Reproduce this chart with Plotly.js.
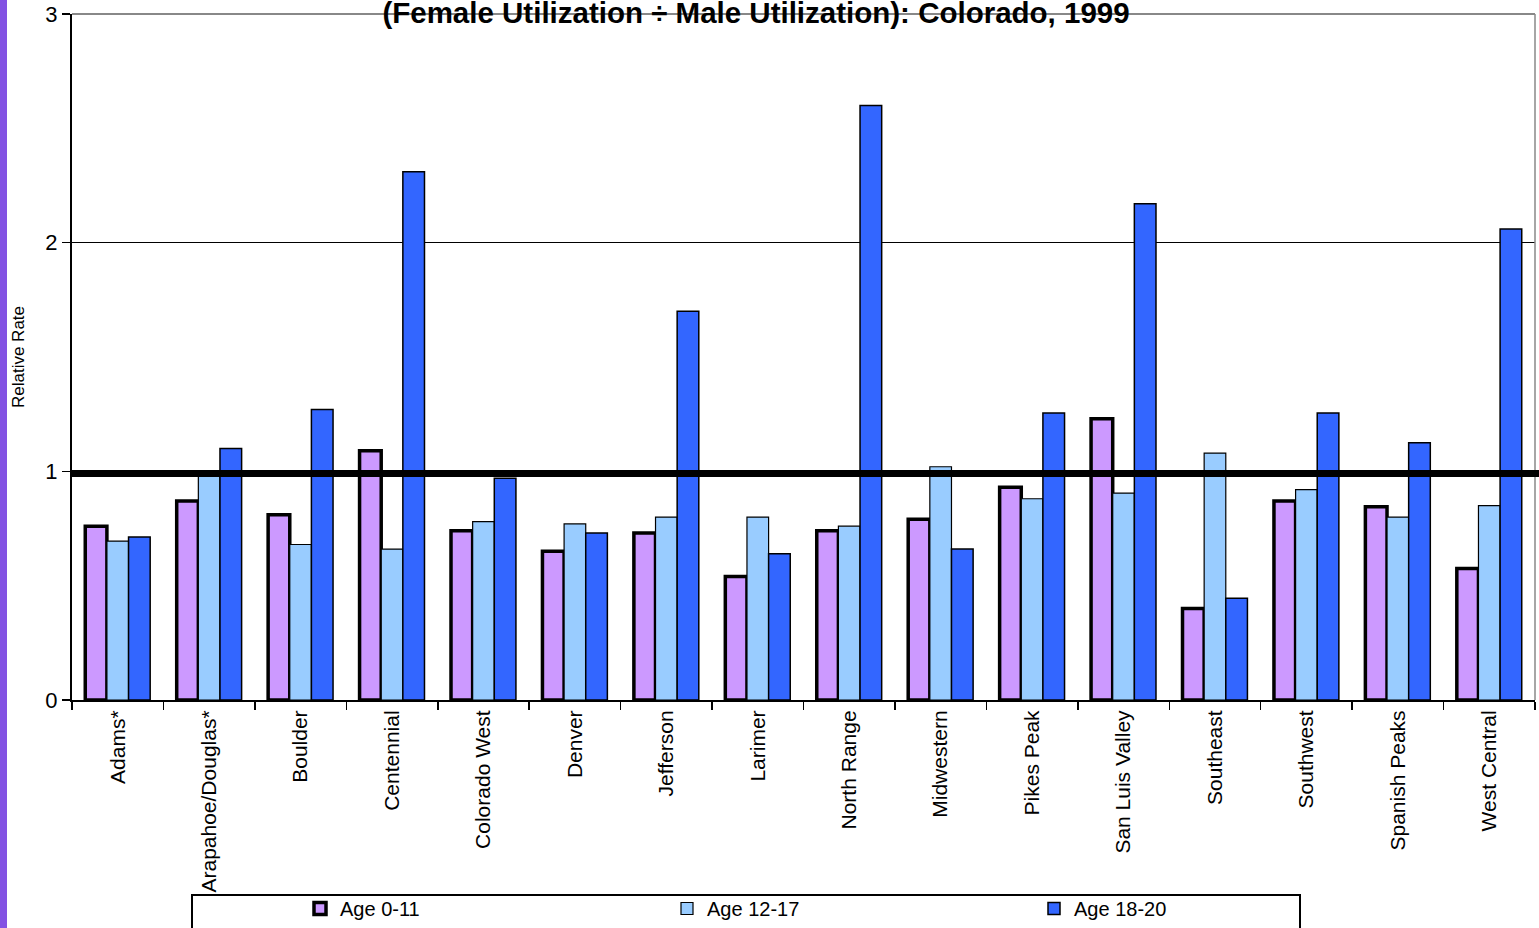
<!DOCTYPE html>
<html>
<head>
<meta charset="utf-8">
<script src="https://cdn.plot.ly/plotly-3.0.1.min.js"></script>
<style>html,body{margin:0;padding:0;background:#fff;}#chart{width:1539px;height:928px;}</style>
</head>
<body>
<div id="chart"></div>
<script>
var regions = ["Adams*", "Arapahoe/Douglas*", "Boulder", "Centennial", "Colorado West", "Denver", "Jefferson", "Larimer", "North Range", "Midwestern", "Pikes Peak", "San Luis Valley", "Southeast", "Southwest", "Spanish Peaks", "West Central"];
var age0_11  = [0.76, 0.87, 0.81, 1.09, 0.74, 0.65, 0.73, 0.54, 0.74, 0.79, 0.93, 1.23, 0.40, 0.87, 0.845, 0.575];
var age12_17 = [0.695, 0.99, 0.68, 0.66, 0.78, 0.77, 0.80, 0.80, 0.76, 1.02, 0.88, 0.905, 1.08, 0.92, 0.80, 0.85];
var age18_20 = [0.713, 1.10, 1.27, 2.31, 0.97, 0.73, 1.70, 0.64, 2.60, 0.66, 1.255, 2.17, 0.445, 1.255, 1.125, 2.06];
var seriesNames = ["Age 0-11", "Age 12-17", "Age 18-20"];
var referenceValue = 0.99;
var yTicks = [0, 1, 2, 3];
var chartTitle = "(Female Utilization \u00f7 Male Utilization): Colorado, 1999";
var yTitle = "Relative Rate";

var FONT = "Liberation Sans, Arial, sans-serif";
var traces = [
  {type: "bar", name: seriesNames[0], x: regions, y: age0_11,
   marker: {color: "#cc99ff", line: {color: "#000", width: 3.5}}},
  {type: "bar", name: seriesNames[1], x: regions, y: age12_17,
   marker: {color: "#99ccff", line: {color: "#000", width: 1.2}}},
  {type: "bar", name: seriesNames[2], x: regions, y: age18_20,
   marker: {color: "#3366ff", line: {color: "#000", width: 1.5}}}
];

var W = 1463, H = 686; // plot area size
var layout = {
  width: 1539, height: 928,
  margin: {l: 72, r: 4, t: 14, b: 228, pad: 0, autoexpand: false},
  paper_bgcolor: "#fff", plot_bgcolor: "#fff",
  font: {family: FONT, color: "#000"},
  barmode: "group", bargap: 0.29, bargroupgap: 0,
  showlegend: true,
  title: {text: "<b>" + chartTitle + "</b>", font: {family: FONT, size: 29.5, color: "#000"},
          x: 756 / 1539, xanchor: "center", xref: "container",
          y: 1 - 13 / 928, yanchor: "middle", yref: "container"},
  xaxis: {type: "category", showline: true, linecolor: "#000", linewidth: 2,
          ticks: "outside", tickson: "boundaries", ticklen: 8, tickcolor: "#000", tickwidth: 1.5,
          tickangle: -90, tickfont: {family: FONT, size: 21, color: "#000"},
          showgrid: false, automargin: false, fixedrange: true},
  yaxis: {range: [0, 3], tickvals: yTicks, ticktext: yTicks.map(String),
          showline: true, linecolor: "#000", linewidth: 2,
          ticks: "outside", ticklen: 8, tickcolor: "#000", tickwidth: 1.5,
          tickfont: {family: FONT, size: 22, color: "#000"},
          showgrid: true, gridcolor: "#000", gridwidth: 1.5, zeroline: false,
          automargin: false, fixedrange: true,
          title: {text: yTitle, font: {family: FONT, size: 17, color: "#000"}, standoff: 16}},
  legend: {orientation: "h", x: (300 - 72) / W, xanchor: "left", y: (700 - 889) / H, yanchor: "top",
           bgcolor: "rgba(0,0,0,0)", borderwidth: 0, font: {family: FONT, size: 20, color: "#000"},
           entrywidth: 322, traceorder: "normal"},
  shapes: [
    {type: "rect", xref: "paper", yref: "paper", x0: -72 / W, x1: -65 / W, y0: (700 - 940) / H, y1: 720 / H,
     fillcolor: "#8352e3", line: {width: 0}, layer: "above"},
    {type: "line", xref: "paper", yref: "paper", x0: 1, x1: 1, y0: 0, y1: 1,
     line: {color: "#888", width: 1.5}, layer: "above"},
    {type: "line", xref: "paper", yref: "paper", x0: 0, x1: 1, y0: 1, y1: 1,
     line: {color: "#888", width: 2}, layer: "below"},
    {type: "line", xref: "paper", yref: "y", x0: 0, x1: (1539 - 72) / W, y0: referenceValue, y1: referenceValue,
     line: {color: "#000", width: 7}, layer: "above"},
    {type: "rect", xref: "paper", yref: "paper", x0: (192 - 72) / W, x1: (1300 - 72) / W,
     y0: (700 - 895) / H, y1: (700 - 960) / H, fillcolor: "#fff", line: {color: "#000", width: 2}, layer: "above"}
  ]
};
Plotly.newPlot("chart", traces, layout, {staticPlot: true, displayModeBar: false});
</script>
</body>
</html>
